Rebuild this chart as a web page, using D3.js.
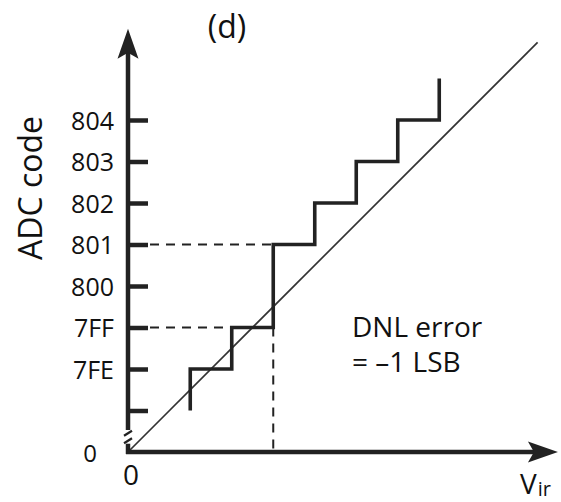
<!DOCTYPE html>
<html>
<head>
<meta charset="utf-8">
<script src="https://cdn.jsdelivr.net/npm/d3@7"></script>
<style>
  html, body { margin: 0; padding: 0; background: #fff; }
  svg text { font-family: "Open Sans", "Noto Sans", sans-serif; fill: #111; }
</style>
</head>
<body>
<svg id="chart" width="561" height="502"></svg>
<script>
// ADC transfer characteristic with a missing code (DNL = -1 LSB)
// Both axes are in LSB units; the code axis is broken just above zero.
const codeLevels = [1, 2, 3, 4, 5, 6, 7, 8];
const codeLabels = ["", "7FE", "7FF", "800", "801", "802", "803", "804"];

// Input voltage (LSB) at which the output code changes
const transitionInputs = [1.5, 2.5, 3.5, 4.5, 5.5, 6.5, 7.5];
// Output code level held before/after each transition
const outputLevels = [1, 2, 3, 5, 6, 7, 8, 9];

// Ideal straight-line transfer
const idealLine = [[0, 0], [9.87, 9.87]];

// Guide lines to the missing code
const guideCodes = [3, 5];          // 7FF and 801
const guideInput = 3.5;             // where the code jumps over 800

const svg = d3.select("#chart");
const x = d3.scaleLinear().domain([0, 10]).range([128, 543]);
const y = d3.scaleLinear().domain([0, 10]).range([452, 37]);

const ink = "#222";

// Tick marks and labels on the code axis
const yAxis = d3.axisLeft(y)
  .tickValues(codeLevels)
  .tickFormat((d, i) => codeLabels[i])
  .tickSize(-20)
  .tickPadding(14);
const gY = svg.append("g").attr("transform", `translate(${x(0)},0)`).call(yAxis);
gY.select(".domain").remove();
gY.selectAll(".tick line").attr("stroke", ink).attr("stroke-width", 4.5);
gY.selectAll(".tick text")
  .style("font-size", "25px")
  .attr("dy", "0.36em")
  .attr("fill", "#111");

// Dashed guides
const dash = "9,7";
svg.append("g").selectAll("line.hguide").data(guideCodes).join("line")
  .attr("x1", x(0) + 22)
  .attr("x2", (d, i) => i === 0 ? x(transitionInputs[1]) : x(guideInput))
  .attr("y1", d => y(d)).attr("y2", d => y(d))
  .attr("stroke", ink).attr("stroke-width", 2).attr("stroke-dasharray", dash);
svg.append("line")
  .attr("x1", x(guideInput)).attr("x2", x(guideInput))
  .attr("y1", y(guideCodes[0])).attr("y2", y(0))
  .attr("stroke", ink).attr("stroke-width", 2).attr("stroke-dasharray", dash);

// Ideal line
svg.append("path")
  .attr("d", d3.line().x(d => x(d[0])).y(d => y(d[1]))(idealLine))
  .attr("fill", "none").attr("stroke", "#333").attr("stroke-width", 1.7);

// Staircase transfer function
const stairs = [[transitionInputs[0], outputLevels[0]]];
transitionInputs.forEach((t, i) => {
  stairs.push([t, outputLevels[i + 1]]);
  if (i + 1 < transitionInputs.length) stairs.push([transitionInputs[i + 1], outputLevels[i + 1]]);
});
svg.append("path")
  .attr("d", d3.line().x(d => x(d[0])).y(d => y(d[1]))(stairs))
  .attr("fill", "none").attr("stroke", ink).attr("stroke-width", 3.6)
  .attr("stroke-linejoin", "miter").attr("stroke-linecap", "butt");

// Axes with arrowheads
const axisTopV = 10.2, axisRightU = 10.36;
const arrow = "M0,0 L-10.5,30 L0,24 L10.5,30 Z";

// code axis, broken near zero
svg.append("line")
  .attr("x1", x(0)).attr("x2", x(0))
  .attr("y1", y(0.53)).attr("y2", y(axisTopV) + 22)
  .attr("stroke", ink).attr("stroke-width", 4.5);
svg.append("line")
  .attr("x1", x(0)).attr("x2", x(0))
  .attr("y1", y(0) + 2).attr("y2", y(0.2))
  .attr("stroke", ink).attr("stroke-width", 4.5);
[0.26, 0.44].forEach(v => {
  svg.append("line")
    .attr("x1", x(0) - 4).attr("y1", y(v) + 2)
    .attr("x2", x(0) + 4).attr("y2", y(v) - 3)
    .attr("stroke", ink).attr("stroke-width", 2.2);
});
svg.append("path")
  .attr("d", arrow)
  .attr("transform", `translate(${x(0)},${y(axisTopV)})`)
  .attr("fill", ink);

// input axis
svg.append("line")
  .attr("x1", x(0) - 2).attr("x2", x(axisRightU) - 22)
  .attr("y1", y(0)).attr("y2", y(0))
  .attr("stroke", ink).attr("stroke-width", 4.5);
svg.append("path")
  .attr("d", arrow)
  .attr("transform", `translate(${x(axisRightU)},${y(0)}) rotate(90)`)
  .attr("fill", ink);

// Labels
svg.append("text").attr("x", 227).attr("y", 38)
  .attr("text-anchor", "middle").style("font-size", "32px").text("(d)");

svg.append("text")
  .attr("transform", "translate(42,188) rotate(-90)")
  .attr("text-anchor", "middle").style("font-size", "32px").text("ADC code");

svg.append("text").attr("x", 97).attr("y", 462)
  .attr("text-anchor", "end").style("font-size", "24px").text("0");
svg.append("text").attr("x", x(0) + 3).attr("y", 485)
  .attr("text-anchor", "middle").style("font-size", "28px").text("0");

const vLabel = svg.append("text").attr("x", 520).attr("y", 494).style("font-size", "28px");
vLabel.append("tspan").text("V");
vLabel.append("tspan").attr("dx", "1").attr("dy", "2").style("font-size", "20px").text("ir");

svg.append("text").attr("x", 352).attr("y", 337).style("font-size", "28px").text("DNL error");
svg.append("text").attr("x", 352).attr("y", 372).style("font-size", "28px").text("= \u20131 LSB");
</script>
</body>
</html>
